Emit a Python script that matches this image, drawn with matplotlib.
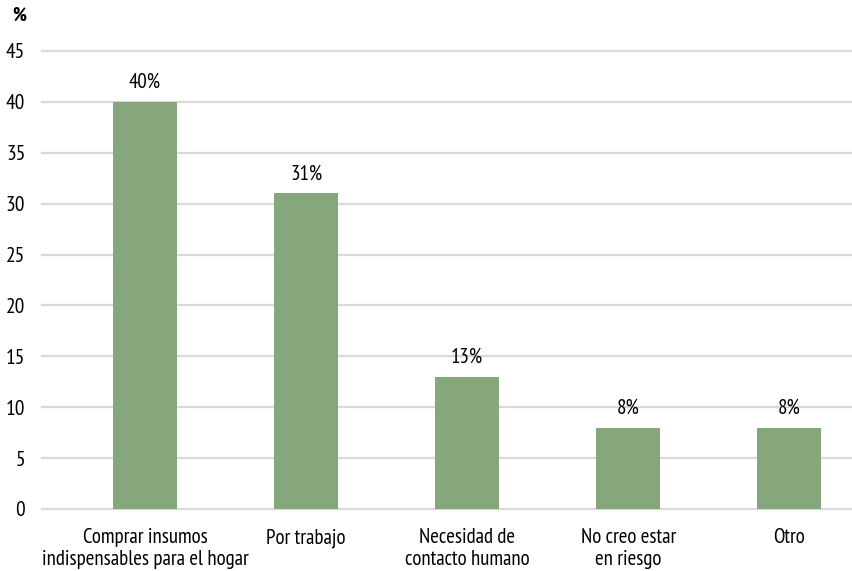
import matplotlib.pyplot as plt
import numpy as np

categorias = ['Comprar insumos\nindispensables para el hogar', 'Por trabajo',
              'Necesidad de\ncontacto humano', 'No creo estar\nen riesgo', 'Otro']
valores = [40, 31, 13, 8, 8]
etiquetas = ['40%', '31%', '13%', '8%', '8%']
yticks = list(range(0, 50, 5))

plt.rcParams['font.family'] = ['PT Sans Narrow', 'DejaVu Sans']

fig = plt.figure(figsize=(8.52, 5.71), dpi=100)
ax = fig.add_axes([0.0493, 0.1086, 0.9507, 0.8021])

x = np.arange(len(categorias))
ax.bar(x, valores, width=0.4, color='#86a77b', zorder=3)
for xi, v, t in zip(x, valores, etiquetas):
    ax.text(xi, v + 1.0, t, ha='center', va='bottom', fontsize=15, color='black')

ax.set_xlim(-0.64, 4.39)
ax.set_ylim(0, 45)
ax.set_yticks(yticks)
ax.set_xticks(x)
ax.set_xticklabels(categorias, fontsize=15, linespacing=1.15)
ax.tick_params(axis='y', labelsize=15.5, length=0, pad=12)
ax.tick_params(axis='x', length=0, pad=14)
ax.yaxis.grid(True, color='#d9d9d9', linewidth=1.6, zorder=0)
for gl in ax.get_ygridlines():
    gl.set_clip_on(False)
for s in ax.spines.values():
    s.set_visible(False)

fig.text(0.014, 0.972, '%', fontsize=14, fontweight='bold', ha='left', va='center')

fig.savefig('out.png', dpi=100)
